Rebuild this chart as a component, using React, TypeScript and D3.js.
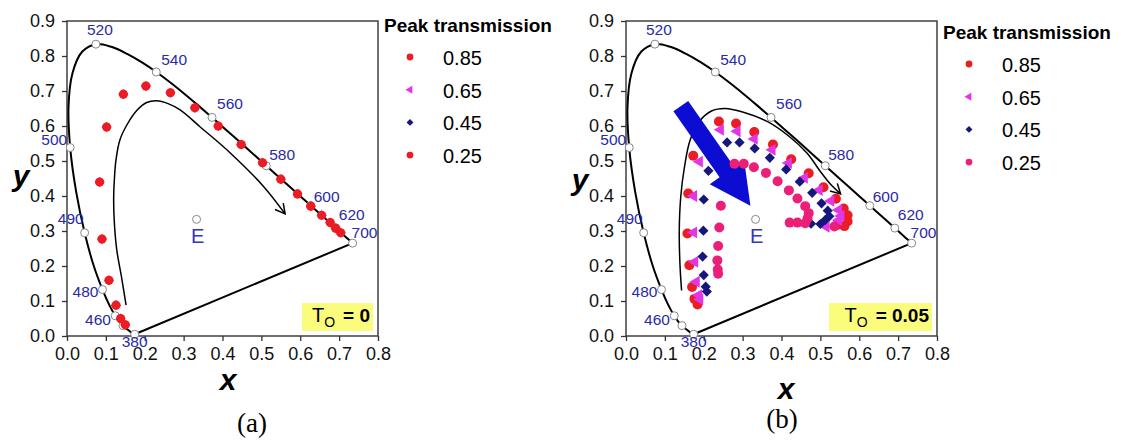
import React, { useRef, useEffect } from "react";
import * as d3 from "d3";

type Pt = [number, number];

// CIE 1931 spectral locus: [wavelength nm, x, y]
const locus: [number, number, number][] = [
  [380, 0.1741, 0.005], [400, 0.1733, 0.0048], [420, 0.1714, 0.0051], [440, 0.1644, 0.0109],
  [450, 0.1566, 0.0177], [460, 0.144, 0.0297], [465, 0.1355, 0.0399], [470, 0.1241, 0.0578],
  [475, 0.1096, 0.0868], [480, 0.0913, 0.1327], [485, 0.0687, 0.2007], [490, 0.0454, 0.295],
  [495, 0.0235, 0.4127], [500, 0.0082, 0.5384], [505, 0.0039, 0.6548], [510, 0.0139, 0.7502],
  [515, 0.0389, 0.812], [520, 0.0743, 0.8338], [525, 0.1142, 0.8262], [530, 0.1547, 0.8059],
  [535, 0.1929, 0.7816], [540, 0.2296, 0.7543], [545, 0.2658, 0.7243], [550, 0.3016, 0.6923],
  [555, 0.3373, 0.6589], [560, 0.3731, 0.6245], [565, 0.4087, 0.5896], [570, 0.4441, 0.5547],
  [575, 0.4788, 0.5202], [580, 0.5125, 0.4866], [585, 0.5448, 0.4544], [590, 0.5752, 0.4242],
  [595, 0.6029, 0.3965], [600, 0.627, 0.3725], [610, 0.6658, 0.334], [620, 0.6915, 0.3083],
  [630, 0.7079, 0.292], [640, 0.719, 0.2809], [650, 0.726, 0.274], [660, 0.73, 0.27],
  [680, 0.7334, 0.2666], [700, 0.7347, 0.2653],
];

const markedWavelengths = [380, 460, 470, 480, 490, 500, 520, 540, 560, 580, 600, 620, 700];
const labelledWavelengths = [380, 460, 480, 490, 500, 520, 540, 560, 580, 600, 620, 700];

const xTicks = [0, 0.1, 0.2, 0.3, 0.4, 0.5, 0.6, 0.7, 0.8];
const yTicks = [0, 0.1, 0.2, 0.3, 0.4, 0.5, 0.6, 0.7, 0.8, 0.9];

const legendLabels = ["0.85", "0.65", "0.45", "0.25"];
const whitePoint: Pt = [0.3333, 0.3333];

// panel (a): T_O = 0, all transmissions fall on the same points
const pointsA: Pt[] = [
  [0.15, 0.032], [0.138, 0.05], [0.126, 0.088], [0.108, 0.159], [0.09, 0.277],
  [0.084, 0.44], [0.102, 0.597], [0.145, 0.691], [0.203, 0.714], [0.266, 0.695],
  [0.329, 0.652], [0.389, 0.6], [0.448, 0.547], [0.503, 0.495], [0.55, 0.448],
  [0.593, 0.406], [0.627, 0.371], [0.655, 0.345], [0.677, 0.324], [0.691, 0.308], [0.704, 0.295],
];

const innerA: Pt[] = [
  [0.152, 0.088], [0.14, 0.17], [0.128, 0.246], [0.122, 0.32], [0.12, 0.389], [0.122, 0.45],
  [0.126, 0.503], [0.136, 0.56], [0.155, 0.605], [0.18, 0.645], [0.205, 0.667], [0.23, 0.672],
  [0.26, 0.664], [0.291, 0.646], [0.342, 0.598], [0.42, 0.523], [0.505, 0.428], [0.561, 0.349],
];

// panel (b): T_O = 0.05
const seriesB85: Pt[] = [
  [0.184, 0.09], [0.176, 0.106], [0.17, 0.14], [0.163, 0.202], [0.158, 0.293], [0.16, 0.407],
  [0.173, 0.515], [0.239, 0.613], [0.283, 0.607], [0.33, 0.583], [0.378, 0.547], [0.425, 0.505],
  [0.47, 0.465], [0.508, 0.425], [0.54, 0.392], [0.56, 0.364], [0.57, 0.345], [0.57, 0.327],
  [0.562, 0.314], [0.543, 0.317],
];
const seriesB65: Pt[] = [
  [0.19, 0.105], [0.187, 0.117], [0.181, 0.155], [0.177, 0.212], [0.174, 0.296], [0.174, 0.4],
  [0.189, 0.498], [0.243, 0.589], [0.286, 0.585], [0.33, 0.563], [0.376, 0.532], [0.418, 0.494],
  [0.459, 0.452], [0.497, 0.417], [0.527, 0.386], [0.547, 0.36], [0.553, 0.343], [0.547, 0.331],
  [0.515, 0.312],
];
const seriesB45: Pt[] = [
  [0.208, 0.127], [0.205, 0.141], [0.2, 0.174], [0.197, 0.227], [0.199, 0.301], [0.2, 0.39],
  [0.212, 0.472], [0.26, 0.553], [0.292, 0.553], [0.331, 0.536], [0.37, 0.509], [0.412, 0.476],
  [0.447, 0.441], [0.479, 0.409], [0.503, 0.379], [0.519, 0.358], [0.523, 0.342], [0.513, 0.332],
  [0.5, 0.32], [0.476, 0.321],
];
const seriesB25: Pt[] = [
  [0.237, 0.178], [0.236, 0.19], [0.235, 0.216], [0.237, 0.257], [0.24, 0.31], [0.244, 0.372],
  [0.279, 0.492], [0.303, 0.492], [0.329, 0.482], [0.36, 0.466], [0.39, 0.442], [0.419, 0.416],
  [0.441, 0.393], [0.461, 0.371], [0.47, 0.351], [0.467, 0.336], [0.461, 0.322], [0.441, 0.324],
  [0.421, 0.324], [0.536, 0.313],
];

const innerB: Pt[] = [
  [0.143, 0.13], [0.139, 0.2], [0.137, 0.3], [0.141, 0.4], [0.15, 0.48], [0.165, 0.56],
  [0.19, 0.615], [0.22, 0.643], [0.255, 0.65], [0.3, 0.64], [0.363, 0.613], [0.42, 0.57],
  [0.466, 0.522], [0.5, 0.47], [0.525, 0.435], [0.552, 0.406],
];

const bigArrowB: Pt[] = [[0.141, 0.657], [0.32, 0.372]];

const FONT = "Arial, 'Liberation Sans', sans-serif";
const RED = "#ec1c24";
const MAGENTA = "#e236e6";
const NAVY = "#16167c";
const PINK = "#ec1f78";
const LABEL_BLUE = "#2a2aa6";

// label offsets (px) for wavelength labels: [dx, dy, anchor]
const labelOffsets: Record<number, [number, number, string]> = {
  380: [0, 13, "middle"],
  460: [-12, -1, "end"],
  480: [-4, 7, "end"],
  490: [-1, -9, "end"],
  500: [-3, -3, "end"],
  520: [4, -9, "middle"],
  540: [5, -7, "start"],
  560: [5, -8, "start"],
  580: [3, -6, "start"],
  600: [3, -4, "start"],
  620: [3, -8, "start"],
  700: [-1, -5, "start"],
};

const triSym = d3.symbol().type(d3.symbolTriangle);
const squareSym = d3.symbol().type(d3.symbolSquare);

function drawMarker(g, kind: string, color: string, cx: number, cy: number, scale = 1) {
  if (kind === "circle") {
    g.append("circle").attr("cx", cx).attr("cy", cy).attr("r", 5 * scale).attr("fill", color);
  } else if (kind === "triangle") {
    g.append("path").attr("d", triSym.size(60 * scale * scale)())
      .attr("transform", `translate(${cx},${cy}) rotate(-90)`).attr("fill", color);
  } else if (kind === "diamond") {
    g.append("path").attr("d", squareSym.size(52 * scale * scale)())
      .attr("transform", `translate(${cx},${cy}) rotate(45)`).attr("fill", color);
  } else if (kind === "blob") {
    g.append("circle").attr("cx", cx).attr("cy", cy).attr("r", 4.6).attr("fill", color);
    g.append("path").attr("d", squareSym.size(50)())
      .attr("transform", `translate(${cx},${cy}) rotate(45)`).attr("fill", color);
  }
}

function drawPanel(svg, p) {
  const x = d3.scaleLinear().domain([0, 0.8]).range([p.left, p.right]);
  const y = d3.scaleLinear().domain([0, 0.9]).range([p.bottom, p.top]);
  const g = svg.append("g");

  const styleAxis = (a) => {
    a.select(".domain").remove();
    a.selectAll("line").attr("stroke", "#333").attr("stroke-width", 1.3);
    a.selectAll("text").attr("font-size", 18).attr("font-family", FONT).attr("fill", "#111");
  };

  g.append("g")
    .attr("transform", `translate(0,${p.bottom})`)
    .call(d3.axisBottom(x).tickValues(xTicks).tickFormat(d3.format(".1f")).tickSize(5).tickPadding(6))
    .call(styleAxis);
  g.append("g")
    .attr("transform", `translate(${p.left},0)`)
    .call(d3.axisLeft(y).tickValues(yTicks).tickFormat(d3.format(".1f")).tickSize(5).tickPadding(7))
    .call(styleAxis);

  g.append("rect")
    .attr("x", p.left).attr("y", p.top)
    .attr("width", p.right - p.left).attr("height", p.bottom - p.top)
    .attr("fill", "none").attr("stroke", "#333").attr("stroke-width", 1.4);

  // spectral locus + purple line
  const locusLine = d3.line<[number, number, number]>()
    .x((d) => x(d[1])).y((d) => y(d[2]))
    .curve(d3.curveCatmullRom.alpha(0.5));
  g.append("path").attr("d", locusLine(locus)).attr("fill", "none")
    .attr("stroke", "#000").attr("stroke-width", 2);
  const first = locus[0];
  const last = locus[locus.length - 1];
  g.append("line")
    .attr("x1", x(last[1])).attr("y1", y(last[2]))
    .attr("x2", x(first[1])).attr("y2", y(first[2]))
    .attr("stroke", "#000").attr("stroke-width", 2);

  // inner guide curve with open arrowhead
  const inner: Pt[] = p.inner;
  const innerLine = d3.line<Pt>().x((d) => x(d[0])).y((d) => y(d[1])).curve(d3.curveCatmullRom.alpha(0.5));
  g.append("path").attr("d", innerLine(inner)).attr("fill", "none")
    .attr("stroke", "#000").attr("stroke-width", 1.5);
  const tip = inner[inner.length - 1];
  const prev = inner[inner.length - 2];
  const ang = Math.atan2(y(tip[1]) - y(prev[1]), x(tip[0]) - x(prev[0]));
  const tx = x(tip[0]), ty = y(tip[1]);
  const head = [ang + Math.PI - 0.5, ang + Math.PI + 0.5]
    .map((a) => [tx + 11 * Math.cos(a), ty + 11 * Math.sin(a)]);
  g.append("path")
    .attr("d", `M${head[0][0]},${head[0][1]}L${tx},${ty}L${head[1][0]},${head[1][1]}`)
    .attr("fill", "none").attr("stroke", "#000").attr("stroke-width", 1.5);

  // locus markers and labels
  locus.filter((d) => markedWavelengths.includes(d[0])).forEach((d) => {
    g.append("circle").attr("cx", x(d[1])).attr("cy", y(d[2])).attr("r", 4)
      .attr("fill", "#fff").attr("stroke", "#888").attr("stroke-width", 1);
  });
  locus.filter((d) => labelledWavelengths.includes(d[0])).forEach((d) => {
    const [dx, dy, anchor] = labelOffsets[d[0]];
    g.append("text").attr("x", x(d[1]) + dx).attr("y", y(d[2]) + dy)
      .attr("text-anchor", anchor).attr("font-family", FONT).attr("font-size", 15.5)
      .attr("fill", LABEL_BLUE).text(d[0]);
  });

  // equal energy white point
  g.append("circle").attr("cx", x(whitePoint[0])).attr("cy", y(whitePoint[1])).attr("r", 4)
    .attr("fill", "#fff").attr("stroke", "#888").attr("stroke-width", 1);
  g.append("text").attr("x", x(whitePoint[0]) + 1).attr("y", y(whitePoint[1]) + 24)
    .attr("text-anchor", "middle").attr("font-family", FONT).attr("font-size", 20)
    .attr("fill", "#3434c4").text("E");

  // big blue arrow
  if (p.bigArrow) {
    const [a0, a1] = p.bigArrow as Pt[];
    const sx = x(a0[0]), sy = y(a0[1]), ex = x(a1[0]), ey = y(a1[1]);
    const len = Math.hypot(ex - sx, ey - sy);
    const ux = (ex - sx) / len, uy = (ey - sy) / len;
    const nx = -uy, ny = ux;
    const hw = 9, hh = 21, hl = 41;
    const bx = ex - ux * hl, by = ey - uy * hl;
    const pts = [
      [sx + nx * hw, sy + ny * hw], [bx + nx * hw, by + ny * hw], [bx + nx * hh, by + ny * hh],
      [ex, ey], [bx - nx * hh, by - ny * hh], [bx - nx * hw, by - ny * hw], [sx - nx * hw, sy - ny * hw],
    ];
    g.append("path").attr("d", "M" + pts.map((q) => q.join(",")).join("L") + "Z").attr("fill", "#0c0cd2");
  }

  // data points
  p.series.forEach((s) => {
    s.points.forEach((d: Pt) => drawMarker(g, s.kind, s.color, x(d[0]), y(d[1])));
  });

  // legend
  g.append("text").attr("x", p.legendX).attr("y", p.legendY)
    .attr("font-family", FONT).attr("font-size", 19).attr("font-weight", "bold")
    .attr("fill", "#000").text("Peak transmission");
  p.legend.forEach((l, i) => {
    const ly = p.legendY + 25 + i * 32.7;
    drawMarker(g, l.kind, l.color, p.legendX + 26, ly, 0.68);
    g.append("text").attr("x", p.legendX + 59).attr("y", ly + 8)
      .attr("font-family", FONT).attr("font-size", 20).attr("fill", "#000").text(legendLabels[i]);
  });

  // T_O annotation
  g.append("rect").attr("x", p.right - 76 - p.boxExtra).attr("y", p.bottom - 33)
    .attr("width", 71 + p.boxExtra).attr("height", 28).attr("fill", "#fbfb7c");
  const t = g.append("text").attr("x", p.right - 8).attr("y", p.bottom - 14)
    .attr("text-anchor", "end").attr("font-family", FONT).attr("font-size", 19)
    .attr("font-weight", "bold").attr("fill", "#000");
  t.append("tspan").attr("font-weight", "normal").attr("font-size", 20).text("T");
  t.append("tspan").attr("font-size", 14).attr("font-weight", "normal").attr("dy", 5).text("O");
  t.append("tspan").attr("dy", -5).attr("dx", 8).text(p.boxText);

  // axis titles
  g.append("text").attr("x", p.xTitleX).attr("y", p.xTitleY).attr("text-anchor", "middle")
    .attr("font-family", FONT).attr("font-size", 30).attr("font-style", "italic")
    .attr("font-weight", "bold").text("x");
  g.append("text").attr("x", p.left - 46).attr("y", p.yTitleY).attr("text-anchor", "middle")
    .attr("font-family", FONT).attr("font-size", 30).attr("font-style", "italic")
    .attr("font-weight", "bold").text("y");
  g.append("text").attr("x", p.tagX).attr("y", p.tagY).attr("text-anchor", "middle")
    .attr("font-family", "'Times New Roman', 'Liberation Serif', serif").attr("font-size", 27)
    .text(p.tag);
}

const App = () => {
  const svgRef = useRef<SVGSVGElement>(null);

  useEffect(() => {
    const svg = d3.select(svgRef.current);
    svg.selectAll("*").remove();

    drawPanel(svg, {
      left: 67, right: 378, top: 21, bottom: 336,
      inner: innerA,
      bigArrow: null,
      series: [{ kind: "blob", color: RED, points: pointsA }],
      legendX: 384, legendY: 32,
      legend: [
        { kind: "circle", color: RED }, { kind: "triangle", color: MAGENTA },
        { kind: "diamond", color: NAVY }, { kind: "circle", color: RED },
      ],
      boxText: "= 0", boxExtra: 0,
      xTitleX: 228, xTitleY: 390, yTitleY: 186,
      tag: "(a)", tagX: 252, tagY: 432,
    });

    drawPanel(svg, {
      left: 626, right: 937, top: 21, bottom: 336,
      inner: innerB,
      bigArrow: bigArrowB,
      series: [
        { kind: "circle", color: RED, points: seriesB85 },
        { kind: "triangle", color: MAGENTA, points: seriesB65 },
        { kind: "diamond", color: NAVY, points: seriesB45 },
        { kind: "circle", color: PINK, points: seriesB25 },
      ],
      legendX: 943, legendY: 39,
      legend: [
        { kind: "circle", color: RED }, { kind: "triangle", color: MAGENTA },
        { kind: "diamond", color: NAVY }, { kind: "circle", color: PINK },
      ],
      boxText: "= 0.05", boxExtra: 32,
      xTitleX: 786, xTitleY: 399, yTitleY: 190,
      tag: "(b)", tagX: 782, tagY: 428,
    });
  }, []);

  return (
    <svg
      ref={svgRef}
      width={1121}
      height={443}
      style={{ position: "absolute", left: 0, top: 0, background: "#fff" }}
    />
  );
};

export default App;
